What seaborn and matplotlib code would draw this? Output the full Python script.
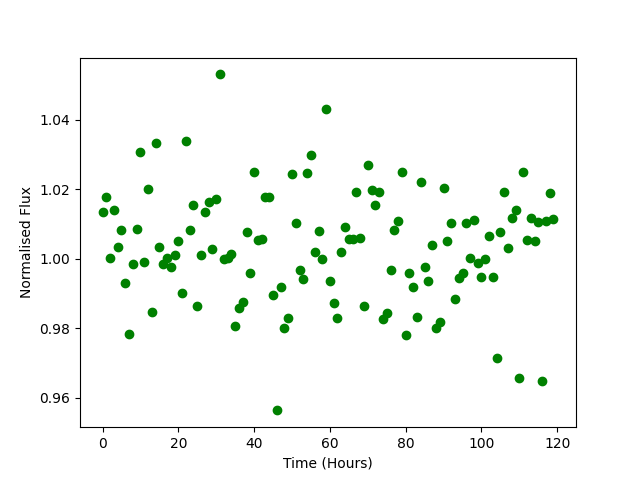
import numpy as np
import pandas as pd
import seaborn as sns
import matplotlib
matplotlib.use("Agg")
import matplotlib.pyplot as plt

# hourly normalised flux readings
hours = np.arange(120)
flux = [
    1.0134, 1.0179, 1.0003, 1.0139, 1.0035, 1.0083, 0.9931, 0.9784, 0.9984, 1.0087,
    1.0308, 0.9991, 1.0202, 0.9847, 1.0332, 1.0035, 0.9984, 1.0003, 0.9977, 1.0010,
    1.0052, 0.9902, 1.0338, 1.0084, 1.0154, 0.9864, 1.0010, 1.0135, 1.0162, 1.0029,
    1.0173, 1.0531, 1.0000, 1.0003, 1.0015, 0.9807, 0.9859, 0.9876, 1.0076, 0.9960,
    1.0251, 1.0055, 1.0058, 1.0179, 1.0179, 0.9896, 0.9563, 0.9919, 0.9801, 0.9830,
    1.0245, 1.0104, 0.9968, 0.9942, 1.0248, 1.0300, 1.0018, 1.0081, 1.0000, 1.0430,
    0.9937, 0.9873, 0.9830, 1.0018, 1.0090, 1.0058, 1.0058, 1.0193, 1.0061, 0.9864,
    1.0269, 1.0198, 1.0156, 1.0191, 0.9827, 0.9845, 0.9968, 1.0084, 1.0110, 1.0251,
    0.9781, 0.9960, 0.9919, 0.9833, 1.0222, 0.9977, 0.9937, 1.0040, 0.9801, 0.9819,
    1.0205, 1.0052, 1.0102, 0.9884, 0.9944, 0.9958, 1.0102, 1.0003, 1.0111, 0.9988,
    0.9947, 0.9998, 1.0064, 0.9947, 0.9715, 1.0076, 1.0193, 1.0032, 1.0118, 1.0139,
    0.9657, 1.0251, 1.0053, 1.0116, 1.0050, 1.0105, 0.9649, 1.0108, 1.0188, 1.0113,
]

df = pd.DataFrame({"time": hours, "flux": flux})

fig, ax = plt.subplots(figsize=(6.4, 4.8), dpi=100)
sns.scatterplot(data=df, x="time", y="flux", color="green", edgecolor="green",
                s=36, linewidth=1, ax=ax)
ax.set_xlabel("Time (Hours)")
ax.set_ylabel("Normalised Flux")
plt.savefig("out.png", dpi=100)
